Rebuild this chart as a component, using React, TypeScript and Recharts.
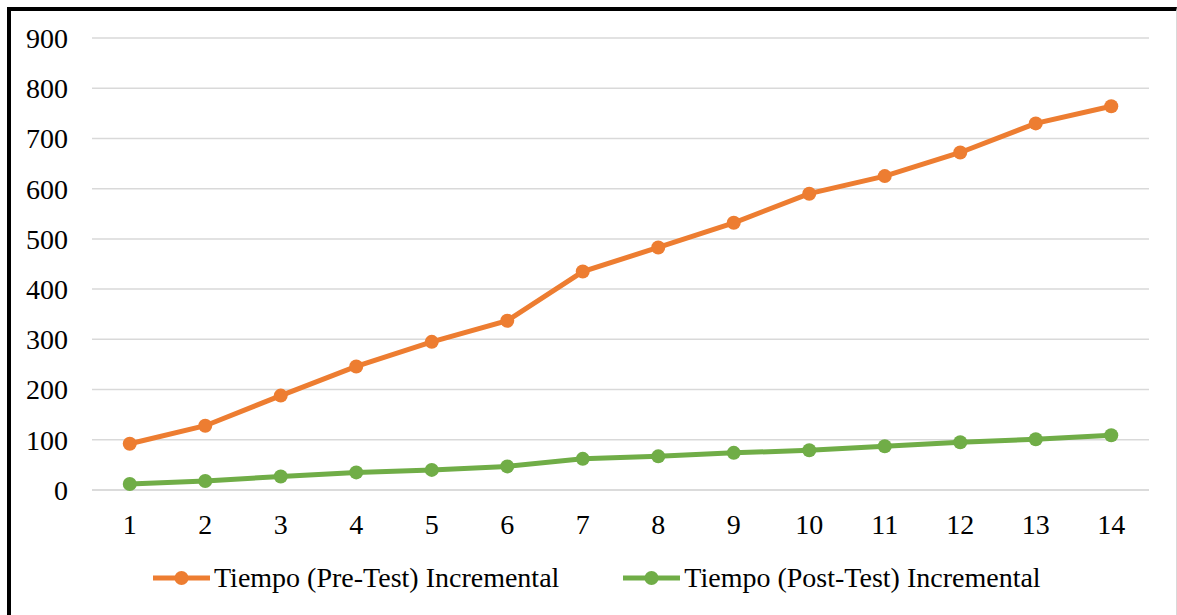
import { LineChart, Line, XAxis, YAxis, CartesianGrid, Legend } from 'recharts';

// Tiempo incremental por iteración, pre-test vs post-test
const categories = ['1', '2', '3', '4', '5', '6', '7', '8', '9', '10', '11', '12', '13', '14'];
const preTest = [92, 128, 188, 246, 295, 337, 435, 483, 532, 590, 625, 672, 730, 764];
const postTest = [12, 18, 27, 35, 40, 47, 62, 67, 74, 79, 87, 95, 101, 109];
const yTicks = [0, 100, 200, 300, 400, 500, 600, 700, 800, 900];

const series = [
  { key: 'pre', name: 'Tiempo (Pre-Test) Incremental', color: '#ED7D31' },
  { key: 'post', name: 'Tiempo (Post-Test) Incremental', color: '#70AD47' },
];

const data = categories.map((c, i) => ({ name: c, pre: preTest[i], post: postTest[i] }));

const FONT = '"Liberation Serif"';
const FONT_SIZE = 28;

function LegendContent(): JSX.Element {
  return (
    <div
      style={{
        height: 60,
        display: 'flex',
        alignItems: 'flex-start',
        paddingLeft: 142,
        gap: 64,
        fontFamily: FONT,
        fontSize: FONT_SIZE,
        color: '#000',
      }}
    >
      {series.map((s) => (
        <div key={s.key} style={{ display: 'flex', alignItems: 'center', height: 46 }}>
          <svg width={57} height={16} style={{ marginRight: 4 }}>
            <line x1={0} y1={8} x2={57} y2={8} stroke={s.color} strokeWidth={5} strokeLinecap="round" />
            <circle cx={28.5} cy={8} r={7} fill={s.color} />
          </svg>
          <span style={{ whiteSpace: 'nowrap' }}>{s.name}</span>
        </div>
      ))}
    </div>
  );
}

export default function App(): JSX.Element {
  return (
    <div
      style={{
        position: 'absolute',
        left: 7,
        top: 7,
        width: 1170,
        height: 608,
        boxSizing: 'border-box',
        borderTop: '4px solid #000',
        borderLeft: '4px solid #000',
        borderRight: '1px solid #d9d9d9',
        background: '#fff',
        fontFamily: FONT,
      }}
    >
      <LineChart width={1165} height={604} data={data} margin={{ top: 27, right: 27, left: 0, bottom: 0 }}>
        <CartesianGrid vertical={false} stroke="#d9d9d9" strokeWidth={1.5} />
        <XAxis
          dataKey="name"
          padding={{ left: 37.75, right: 37.75 }}
          height={65}
          tickLine={false}
          tickSize={0}
          tickMargin={24}
          axisLine={{ stroke: '#d9d9d9', strokeWidth: 1.5 }}
          tick={{ fill: '#000', fontSize: FONT_SIZE, fontFamily: 'Liberation Serif' }}
        />
        <YAxis
          width={81}
          domain={[0, 900]}
          ticks={yTicks}
          axisLine={false}
          tickLine={false}
          tickSize={0}
          tickMargin={24}
          tick={{ fill: '#000', fontSize: FONT_SIZE, fontFamily: 'Liberation Serif' }}
        />
        <Legend verticalAlign="bottom" height={60} content={() => <LegendContent />} wrapperStyle={{ left: 0, width: 1165 }} />
        {series.map((s) => (
          <Line
            key={s.key}
            dataKey={s.key}
            name={s.name}
            stroke={s.color}
            strokeWidth={5}
            dot={{ r: 7, fill: s.color, stroke: s.color, strokeWidth: 0 }}
            activeDot={false}
            isAnimationActive={false}
          />
        ))}
      </LineChart>
    </div>
  );
}
